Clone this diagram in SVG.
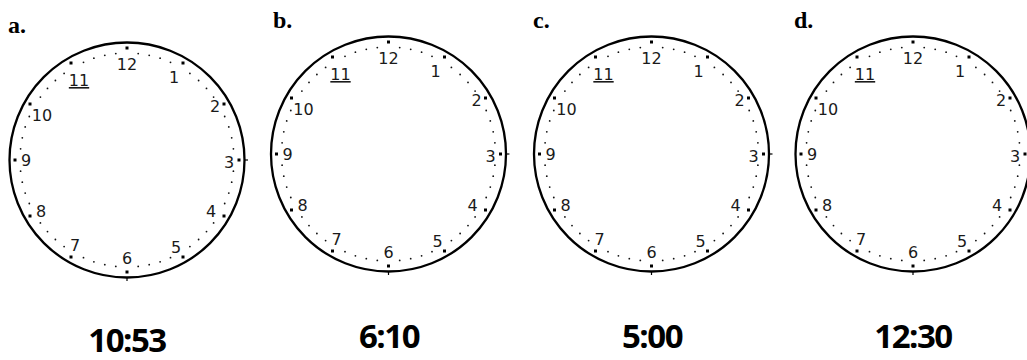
<svg xmlns="http://www.w3.org/2000/svg" xmlns:xlink="http://www.w3.org/1999/xlink" width="1027" height="360" viewBox="0 0 1027 360">
<style>
.rim{fill:none;stroke:#000;stroke-width:2.3}
.tk{stroke:#000;stroke-width:1.2}
.md{fill:#111}
.hd{fill:#000}
.num{font-family:"DejaVu Sans","Liberation Sans",sans-serif;font-size:16px;fill:#1a1a1a;text-anchor:middle}
.lbl{font-family:"Liberation Serif","Times New Roman",serif;font-size:24px;font-weight:bold;fill:#000}
.time{font-family:"Open Sans","Liberation Sans",sans-serif;font-size:33px;font-weight:bold;fill:#000;text-anchor:middle;letter-spacing:-1.5px}
</style>
<defs>
<g id="face">
<circle class="rim" cx="0" cy="0" r="117.5"/>
<line class="tk" x1="117" y1="0" x2="121" y2="0"/>
<line class="tk" x1="0" y1="117" x2="0" y2="121"/>
<g class="md">
<circle cx="11.2" cy="-106.4" r="0.9"/><circle cx="22.2" cy="-104.7" r="0.9"/><circle cx="33.1" cy="-101.8" r="0.9"/><circle cx="43.5" cy="-97.7" r="0.9"/>
<circle cx="62.9" cy="-86.6" r="0.9"/><circle cx="71.6" cy="-79.5" r="0.9"/><circle cx="79.5" cy="-71.6" r="0.9"/><circle cx="86.6" cy="-62.9" r="0.9"/>
<circle cx="97.7" cy="-43.5" r="0.9"/><circle cx="101.8" cy="-33.1" r="0.9"/><circle cx="104.7" cy="-22.2" r="0.9"/><circle cx="106.4" cy="-11.2" r="0.9"/>
<circle cx="11.2" cy="106.4" r="0.9"/><circle cx="22.2" cy="104.7" r="0.9"/><circle cx="33.1" cy="101.8" r="0.9"/><circle cx="43.5" cy="97.7" r="0.9"/>
<circle cx="62.9" cy="86.6" r="0.9"/><circle cx="71.6" cy="79.5" r="0.9"/><circle cx="79.5" cy="71.6" r="0.9"/><circle cx="86.6" cy="62.9" r="0.9"/>
<circle cx="97.7" cy="43.5" r="0.9"/><circle cx="101.8" cy="33.1" r="0.9"/><circle cx="104.7" cy="22.2" r="0.9"/><circle cx="106.4" cy="11.2" r="0.9"/>
<circle cx="-11.2" cy="-106.4" r="0.9"/><circle cx="-22.2" cy="-104.7" r="0.9"/><circle cx="-33.1" cy="-101.8" r="0.9"/><circle cx="-43.5" cy="-97.7" r="0.9"/>
<circle cx="-62.9" cy="-86.6" r="0.9"/><circle cx="-71.6" cy="-79.5" r="0.9"/><circle cx="-79.5" cy="-71.6" r="0.9"/><circle cx="-86.6" cy="-62.9" r="0.9"/>
<circle cx="-97.7" cy="-43.5" r="0.9"/><circle cx="-101.8" cy="-33.1" r="0.9"/><circle cx="-104.7" cy="-22.2" r="0.9"/><circle cx="-106.4" cy="-11.2" r="0.9"/>
<circle cx="-11.2" cy="106.4" r="0.9"/><circle cx="-22.2" cy="104.7" r="0.9"/><circle cx="-33.1" cy="101.8" r="0.9"/><circle cx="-43.5" cy="97.7" r="0.9"/>
<circle cx="-62.9" cy="86.6" r="0.9"/><circle cx="-71.6" cy="79.5" r="0.9"/><circle cx="-79.5" cy="71.6" r="0.9"/><circle cx="-86.6" cy="62.9" r="0.9"/>
<circle cx="-97.7" cy="43.5" r="0.9"/><circle cx="-101.8" cy="33.1" r="0.9"/><circle cx="-104.7" cy="22.2" r="0.9"/><circle cx="-106.4" cy="11.2" r="0.9"/>
</g>
<g class="hd">
<rect x="-1.5" y="-113.5" width="3" height="3"/><rect x="54.5" y="-98.5" width="3" height="3"/><rect x="95.5" y="-57.5" width="3" height="3"/>
<rect x="110.5" y="-1.5" width="3" height="3"/><rect x="95.5" y="54.5" width="3" height="3"/><rect x="54.5" y="95.5" width="3" height="3"/>
<rect x="-1.5" y="110.5" width="3" height="3"/><rect x="-57.5" y="95.5" width="3" height="3"/><rect x="-98.5" y="54.5" width="3" height="3"/>
<rect x="-113.5" y="-1.5" width="3" height="3"/><rect x="-98.5" y="-57.5" width="3" height="3"/><rect x="-57.5" y="-98.5" width="3" height="3"/>
</g>
<text class="num" x="0" y="-90">12</text>
<text class="num" x="47" y="-77">1</text>
<text class="num" x="88" y="-48">2</text>
<text class="num" x="102" y="8">3</text>
<text class="num" x="84" y="57">4</text>
<text class="num" x="49" y="93">5</text>
<text class="num" x="0" y="104">6</text>
<text class="num" x="-52" y="91">7</text>
<text class="num" x="-86" y="57">8</text>
<text class="num" x="-101" y="6">9</text>
<text class="num" x="-85" y="-39">10</text>
<text class="num" x="-48" y="-74" text-decoration="underline">11</text>
</g>
</defs>
<rect width="1027" height="360" fill="#fff"/>
<g id="clock-a">
<text class="lbl" x="8" y="33">a.</text>
<use xlink:href="#face" href="#face" transform="translate(127,160)"/>
<text class="time" x="127" y="352">10:53</text>
</g>
<g id="clock-b">
<text class="lbl" x="273" y="28">b.</text>
<use xlink:href="#face" href="#face" transform="translate(388.5,154)"/>
<text class="time" x="389" y="348">6:10</text>
</g>
<g id="clock-c">
<text class="lbl" x="533" y="28">c.</text>
<use xlink:href="#face" href="#face" transform="translate(651.5,154)"/>
<text class="time" x="652" y="348">5:00</text>
</g>
<g id="clock-d">
<text class="lbl" x="794" y="28">d.</text>
<use xlink:href="#face" href="#face" transform="translate(913,154)"/>
<text class="time" x="913" y="348">12:30</text>
</g>
<g id="connectors"/>
</svg>
